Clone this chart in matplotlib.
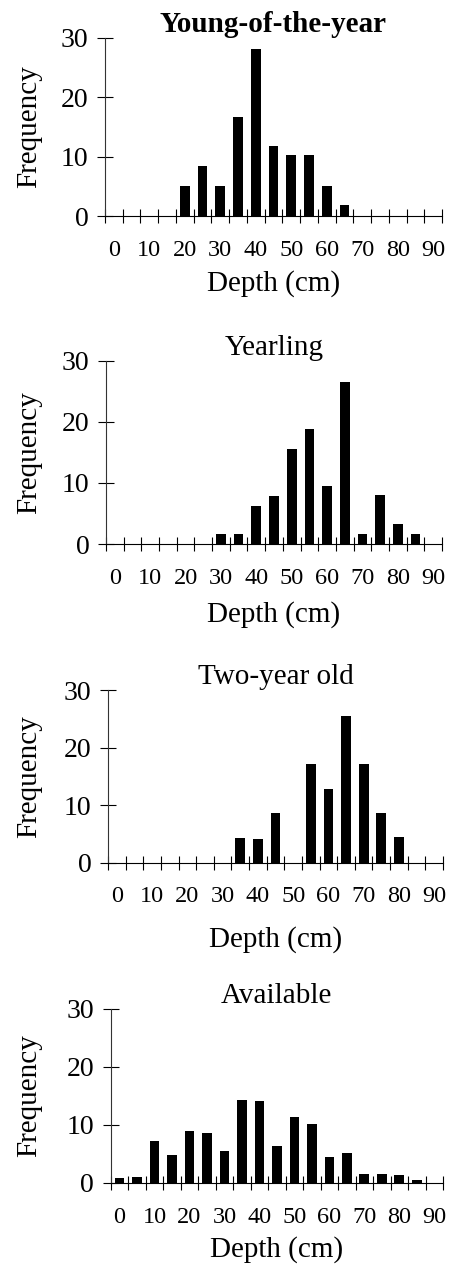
import matplotlib
matplotlib.use("Agg")
import matplotlib.pyplot as plt

plt.rcParams["font.family"] = ["Liberation Serif", "DejaVu Serif"]

# depth classes (cm) and frequencies
depth = [0, 5, 10, 15, 20, 25, 30, 35, 40, 45, 50, 55, 60, 65, 70, 75, 80, 85, 90]
young = [0, 0, 0, 0, 5.1, 8.4, 5.1, 16.7, 28.1, 11.8, 10.2, 10.2, 5.1, 1.9, 0, 0, 0, 0, 0]
yearling = [0, 0, 0, 0, 0, 0, 1.7, 1.7, 6.3, 7.9, 15.6, 18.8, 9.5, 26.5, 1.7, 8.0, 3.3, 1.7, 0]
two_year = [0, 0, 0, 0, 0, 0, 0, 4.3, 4.2, 8.6, 0, 17.1, 12.8, 25.4, 17.1, 8.7, 4.4, 0, 0]
available = [0.9, 1.0, 7.2, 4.8, 9.0, 8.6, 5.5, 14.3, 14.1, 6.4, 11.4, 10.1, 4.5, 5.1, 1.5, 1.5, 1.3, 0.5, 0]

titles = ["Young-of-the-year", "Yearling", "Two-year old", "Available"]
series = [young, yearling, two_year, available]
yticks = [0, 10, 20, 30]

W, H = 450, 1271
fig = plt.figure(figsize=(W / 100, H / 100), dpi=100)

# panel boxes in pixels: left, top, right, zero line
boxes = [(105, 37.7, 442, 216), (106, 360.7, 442, 544),
         (108, 690, 443, 862.7), (110.7, 1009, 443, 1183)]
xlab_off = [68, 71, 77, 67]
title_pad = [4, 3, 3, 1.5]

x = list(range(len(depth)))
for i, (vals, title) in enumerate(zip(series, titles)):
    l, t, r, b = boxes[i]
    ax = fig.add_axes([l / W, 1 - b / H, (r - l) / W, (b - t) / H])
    ax.bar(x, vals, width=0.55, color="black")
    ax.set_xlim(-0.5, len(depth) - 0.5)
    ax.set_ylim(0, 30)

    ax.set_yticks(yticks)
    ax.set_xticks([k - 0.5 for k in range(len(depth) + 1)])
    ax.set_xticklabels([])
    ax.set_xticks(x[::2], minor=True)
    ax.set_xticklabels([str(d) for d in depth[::2]], minor=True, fontsize=17.5)
    ax.tick_params(axis="x", which="major", direction="inout", length=9.5, width=0.8)
    ax.tick_params(axis="x", which="minor", length=0, pad=17)
    ax.tick_params(axis="y", direction="inout", length=12, width=0.8, pad=6, labelsize=20)

    for s in ["top", "right"]:
        ax.spines[s].set_visible(False)
    ax.spines["left"].set_color("#333333")
    ax.spines["bottom"].set_color("black")

    ax.set_ylabel("Frequency", fontsize=21, va="center")
    ax.yaxis.set_label_coords((29 - l) / (r - l), 0.5)
    ax.set_xlabel("Depth (cm)", fontsize=21, va="center")
    ax.xaxis.set_label_coords(0.5, -xlab_off[i] / (b - t))
    ax.set_title(title, fontsize=21, pad=title_pad[i],
                 fontweight="bold" if i == 0 else "normal")

plt.savefig("out.png", dpi=100)
